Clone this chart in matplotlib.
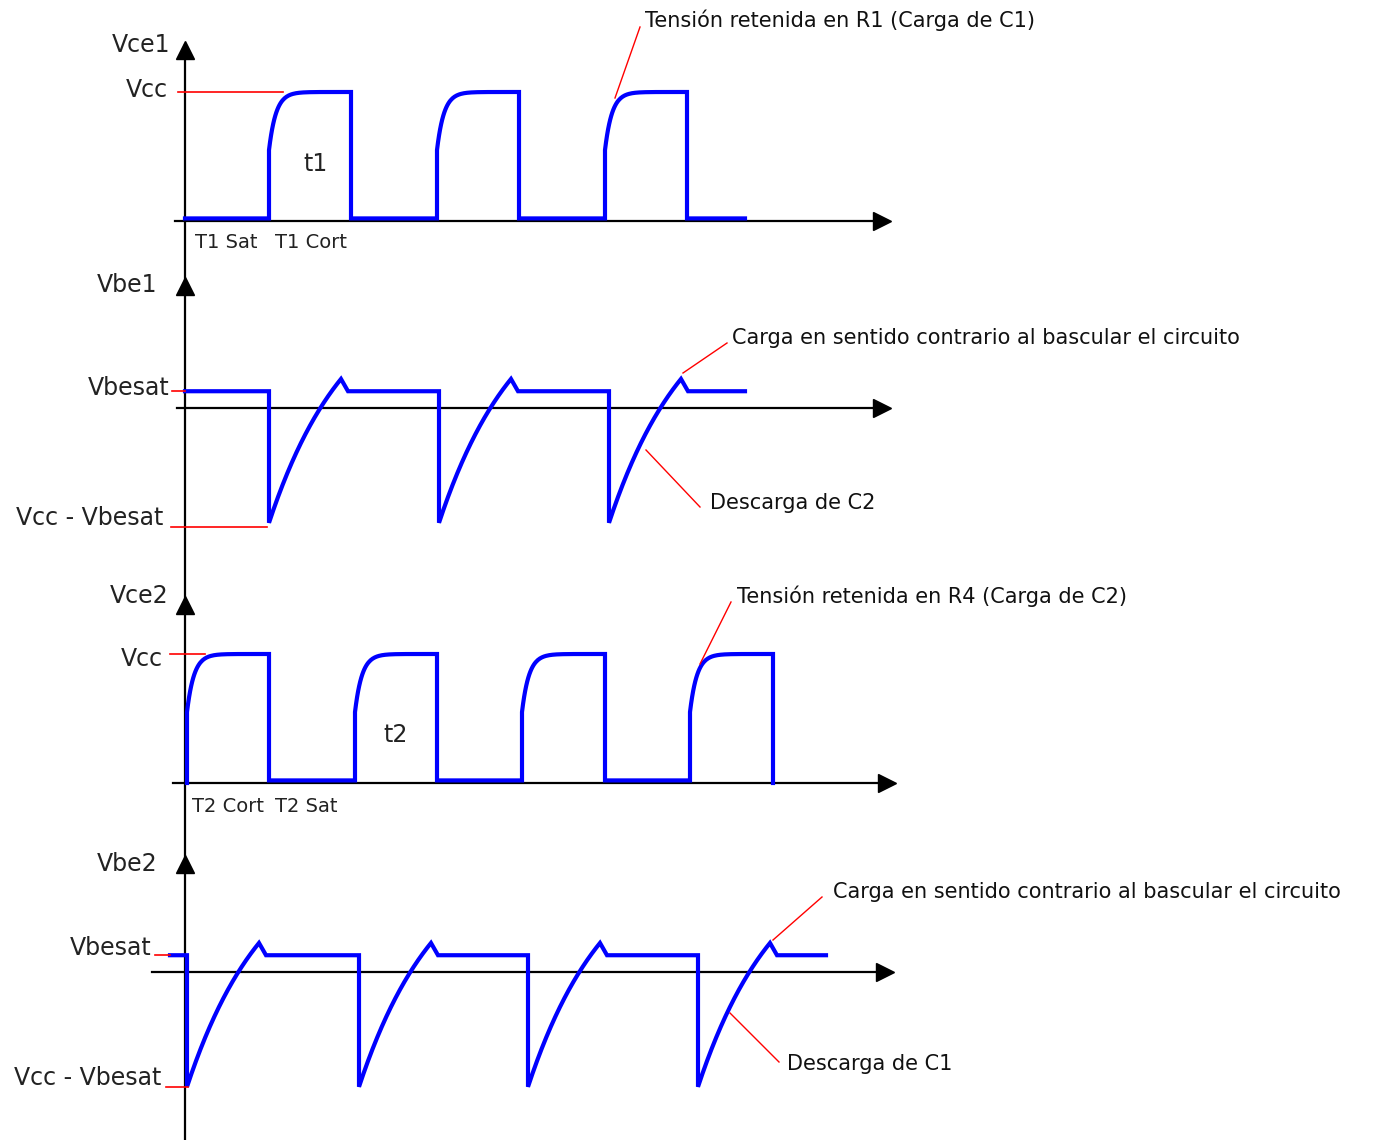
import numpy as np
import matplotlib.pyplot as plt

# --- waveform data (time in drawing units, voltage relative to Vcc) ---
vce1_rise = [269, 437, 605]
vce1_fall = [351, 519, 687]
vce1_span = (185, 745)

vce2_rise = [187, 355, 522, 690]
vce2_fall = [269, 437, 605, 773]
vce2_span = (187, 773)

vbe1_drop = [269, 439, 609]
vbe1_span = (185, 745)

vbe2_drop = [187, 359, 528, 698]
vbe2_span = (170, 826)

vcc = 1.0
vce_sat = 0.02
vce_jump = 0.55      # level reached by the vertical edge before the charge curve
vbe_sat = 0.13
vbe_min = -0.89
vbe_peak = 0.225
tau_charge = 7.0     # C charge through Rc
tau_discharge = 80.0 # C discharge through Rb
t_peak = 72
t_back = 7

# panel baselines (y of the time axis) and vertical scale
bases = [221, 408, 783, 972]
K = 129

def vce_wave(rises, falls, span, start_level, end_level):
    t = [span[0]]
    v = [start_level]
    low = start_level
    for r, f in zip(rises, falls):
        t += [r, r]
        v += [low, vce_jump]
        dt = np.linspace(0, f - r, 80)
        t += list(r + dt)
        v += list(vcc - (vcc - vce_jump) * np.exp(-dt / tau_charge))
        t += [f]
        v += [vce_sat]
        low = vce_sat
    if span[1] > falls[-1]:
        t += [span[1]]
        v += [vce_sat]
    else:
        v[-1] = end_level
    return np.array(t), np.array(v)

def vbe_wave(drops, span):
    t = [span[0]]
    v = [vbe_sat]
    amp = (vbe_peak - vbe_min) / (1 - np.exp(-t_peak / tau_discharge))
    for d in drops:
        t += [d, d]
        v += [vbe_sat, vbe_min]
        dt = np.linspace(0, t_peak, 80)
        t += list(d + dt)
        v += list(vbe_min + amp * (1 - np.exp(-dt / tau_discharge)))
        t += [d + t_peak + t_back]
        v += [vbe_sat]
    t += [span[1]]
    v += [vbe_sat]
    return np.array(t), np.array(v)

fig = plt.figure(figsize=(13.73, 11.40), dpi=100)
ax = fig.add_axes([0, 0, 1, 1])
ax.set_xlim(0, 1373)
ax.set_ylim(1140, 0)
ax.axis('off')

blue = '#0000ff'
lab_font = dict(family='DejaVu Sans', fontsize=17, color='#222222')
small_font = dict(family='DejaVu Sans', fontsize=14, color='#222222')
ann_font = dict(family='DejaVu Sans', fontsize=15, color='#111111')

# vertical axis and arrow heads
ax.plot([185, 185], [45, 1140], color='black', lw=1.6)
for ya in [50, 286, 605, 864]:
    ax.plot(185, ya, marker='^', color='black', markersize=13)

# horizontal axes
h_start = [175, 177, 173, 152]
h_tip = [882, 882, 887, 885]
for b, xs, xt in zip(bases, h_start, h_tip):
    ax.plot([xs, xt - 5], [b, b], color='black', lw=1.6)
    ax.plot(xt, b, marker='>', color='black', markersize=13)

# waveforms
t, v = vce_wave(vce1_rise, vce1_fall, vce1_span, vce_sat, vce_sat)
ax.plot(t, bases[0] - K * v, color=blue, lw=3, solid_joinstyle='miter')
t, v = vbe_wave(vbe1_drop, vbe1_span)
ax.plot(t, bases[1] - K * v, color=blue, lw=3, solid_joinstyle='miter')
t, v = vce_wave(vce2_rise, vce2_fall, vce2_span, 0.0, 0.0)
ax.plot(t, bases[2] - K * v, color=blue, lw=3, solid_joinstyle='miter')
t, v = vbe_wave(vbe2_drop, vbe2_span)
ax.plot(t, bases[3] - K * v, color=blue, lw=3, solid_joinstyle='miter')

# red level marks
red = '#ff0000'
ax.plot([178, 283], [bases[0] - K * vcc] * 2, color=red, lw=1.2)
ax.plot([172, 185], [bases[1] - K * vbe_sat] * 2, color=red, lw=1.2)
ax.plot([171, 267], [bases[1] - K * (vbe_min - 0.03)] * 2, color=red, lw=1.2)
ax.plot([170, 205], [bases[2] - K * vcc] * 2, color=red, lw=1.2)
ax.plot([155, 170], [bases[3] - K * vbe_sat] * 2, color=red, lw=1.2)
ax.plot([166, 188], [bases[3] - K * vbe_min] * 2, color=red, lw=1.2)

# axis labels
ax.text(170, 45, 'Vce1', ha='right', va='center', **lab_font)
ax.text(168, 90, 'Vcc', ha='right', va='center', **lab_font)
ax.text(315, 164, 't1', ha='center', va='center', **lab_font)
ax.text(195, 242, 'T1 Sat', ha='left', va='center', **small_font)
ax.text(275, 242, 'T1 Cort', ha='left', va='center', **small_font)

ax.text(157, 285, 'Vbe1', ha='right', va='center', **lab_font)
ax.text(170, 388, 'Vbesat', ha='right', va='center', **lab_font)
ax.text(163, 518, 'Vcc - Vbesat', ha='right', va='center', **lab_font)

ax.text(168, 596, 'Vce2', ha='right', va='center', **lab_font)
ax.text(163, 659, 'Vcc', ha='right', va='center', **lab_font)
ax.text(396, 735, 't2', ha='center', va='center', **lab_font)
ax.text(192, 807, 'T2 Cort', ha='left', va='center', **small_font)
ax.text(275, 807, 'T2 Sat', ha='left', va='center', **small_font)

ax.text(157, 864, 'Vbe2', ha='right', va='center', **lab_font)
ax.text(152, 948, 'Vbesat', ha='right', va='center', **lab_font)
ax.text(161, 1078, 'Vcc - Vbesat', ha='right', va='center', **lab_font)

# annotations with red leader lines
notes = [
    ('Tensión retenida en R1 (Carga de C1)', (645, 20), (640, 27), (615, 98)),
    ('Carga en sentido contrario al bascular el circuito', (732, 338), (727, 343), (683, 373)),
    ('Descarga de C2', (710, 503), (700, 507), (646, 450)),
    ('Tensión retenida en R4 (Carga de C2)', (737, 596), (731, 602), (700, 664)),
    ('Carga en sentido contrario al bascular el circuito', (833, 892), (822, 897), (773, 940)),
    ('Descarga de C1', (787, 1064), (779, 1062), (730, 1013)),
]
for txt, pos, p0, p1 in notes:
    ax.text(pos[0], pos[1], txt, ha='left', va='center', **ann_font)
    ax.plot([p0[0], p1[0]], [p0[1], p1[1]], color=red, lw=1)

fig.savefig('out.png', dpi=100)
